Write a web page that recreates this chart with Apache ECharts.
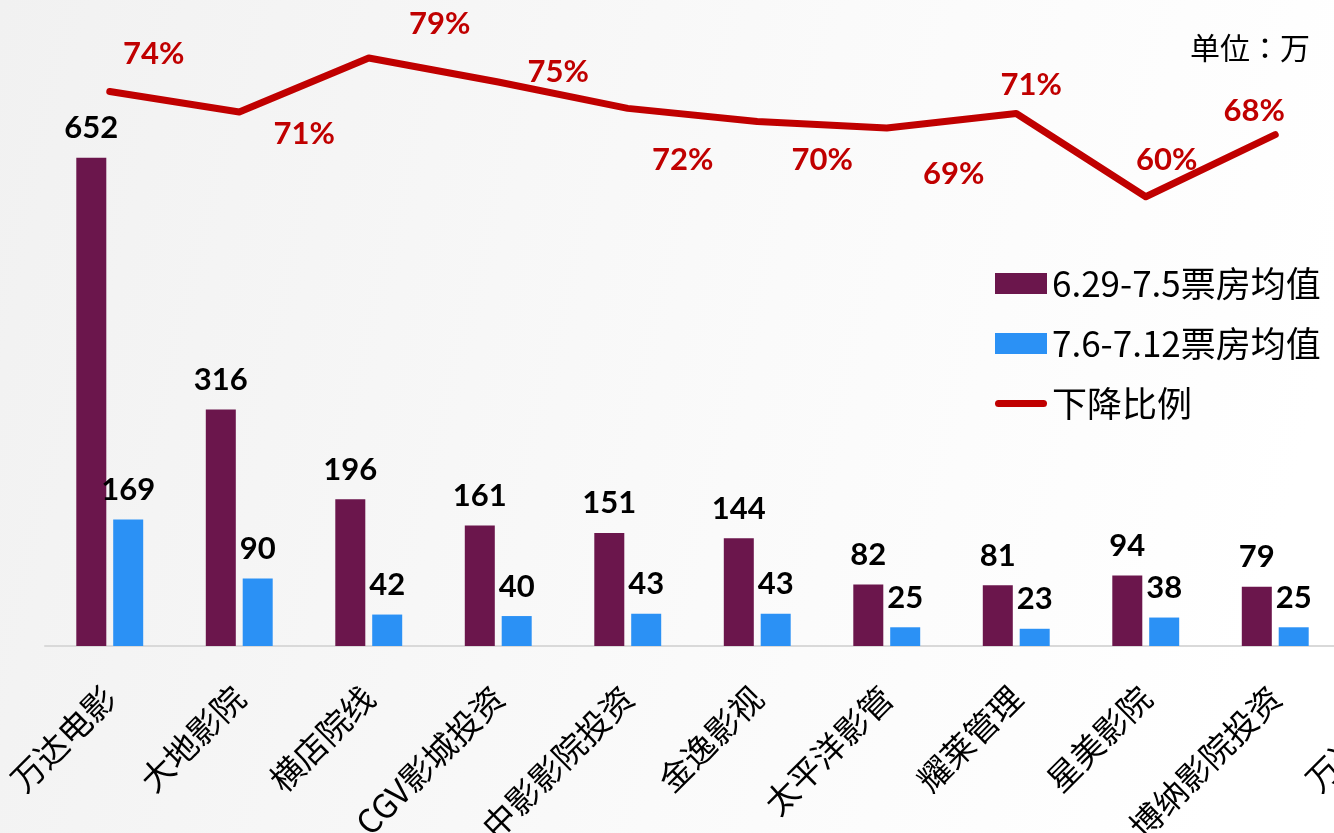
<!DOCTYPE html>
<html>
<head>
<meta charset="utf-8">
<style>
  html, body { margin: 0; padding: 0; background: #fff; }
  #chart { width: 1334px; height: 833px; }
</style>
<script src="https://cdn.jsdelivr.net/npm/echarts@6/dist/echarts.min.js"></script>
</head>
<body>
<div id="chart"></div>
<script>
// ---- data ----
const categories = ['万达电影', '大地影院', '横店院线', 'CGV影城投资', '中影影院投资', '金逸影视', '太平洋影管', '耀莱管理', '星美影院', '博纳影院投资', '万达院线'];
const seriesNames = ['6.29-7.5票房均值', '7.6-7.12票房均值', '下降比例'];
const boxBefore = [652, 316, 196, 161, 151, 144, 82, 81, 94, 79];
const boxAfter = [169, 90, 42, 40, 43, 43, 25, 23, 38, 25];
const dropRatio = [73.9, 71.1, 78.5, 75.2, 71.6, 69.8, 68.9, 70.9, 59.5, 68.0];
const unitText = '单位：万';

// ---- layout of percent labels (offset from point to label centre) ----
const ratioLabelOffsets = [[44, -38], [65, 22], [71, -34], [60, -10], [55, 52], [65, 38], [67, 46], [15, -28], [21, -37], [-21, -24]];

const numFont = 'Lato';
const cjkFont = 'Noto Sans CJK SC';

const chart = echarts.init(document.getElementById('chart'));
const option = {
  animation: false,
  backgroundColor: {
    type: 'linear', x: 0, y: 0, x2: 1, y2: 0.4,
    colorStops: [{ offset: 0, color: '#f1f1f1' }, { offset: 0.6, color: '#fafafa' }, { offset: 1, color: '#ffffff' }]
  },
  graphic: [{
    type: 'text', left: 1190, top: 33,
    style: { text: unitText, fontSize: 30, fontFamily: 'Noto Sans CJK JP', fill: '#000' }
  }],
  legend: {
    orient: 'vertical',
    left: 995,
    top: 266,
    padding: 0,
    itemWidth: 52,
    itemHeight: 21,
    itemGap: 25,
    textStyle: { fontSize: 35, fontFamily: cjkFont, color: '#000', lineHeight: 34 },
    data: [
      { name: seriesNames[0], icon: 'rect' },
      { name: seriesNames[1], icon: 'rect' },
      { name: seriesNames[2], icon: 'path://M3.5,0L48.5,0A3.5,3.5,0,0,1,48.5,7L3.5,7A3.5,3.5,0,0,1,3.5,0Z' }
    ]
  },
  grid: { left: 45, right: -135.5, top: 47, bottom: 187, containLabel: false, outerBoundsMode: 'none' },
  xAxis: {
    type: 'category',
    data: categories,
    boundaryGap: true,
    axisLine: { show: true, lineStyle: { color: '#d9d9d9', width: 2 } },
    axisTick: { show: false },
    axisLabel: {
      interval: 0, rotate: 45, margin: 46,
      fontSize: 33, fontFamily: cjkFont, color: '#000'
    }
  },
  yAxis: [
    { type: 'value', min: 0, max: 800, show: false, splitLine: { show: false } },
    { type: 'value', min: -2, max: 80, show: false, splitLine: { show: false } }
  ],
  series: [
    {
      name: seriesNames[0], type: 'bar', data: boxBefore,
      barWidth: 30, barGap: '23%',
      itemStyle: { color: '#6b164c' },
      label: { show: true, position: 'top', distance: 14, fontSize: 31, fontWeight: 'bold', fontFamily: numFont, color: '#000' }
    },
    {
      name: seriesNames[1], type: 'bar', data: boxAfter,
      barWidth: 30, barGap: '23%',
      itemStyle: { color: '#2b91f5' },
      label: { show: true, position: 'top', distance: 14, fontSize: 31, fontWeight: 'bold', fontFamily: numFont, color: '#000' }
    },
    {
      name: seriesNames[2], type: 'line', yAxisIndex: 1, z: 5,
      data: dropRatio.map((v, i) => ({
        value: v,
        label: { offset: ratioLabelOffsets[i] }
      })),
      symbol: 'circle', symbolSize: 0,
      itemStyle: { color: '#c00000' },
      lineStyle: { color: '#c00000', width: 7, cap: 'round', join: 'round' },
      label: {
        show: true, position: 'inside',
        formatter: p => Math.round(p.value) + '%',
        fontSize: 31, fontWeight: 'bold', fontFamily: numFont, color: '#c00000'
      }
    }
  ]
};
chart.setOption(option);
</script>
</body>
</html>
